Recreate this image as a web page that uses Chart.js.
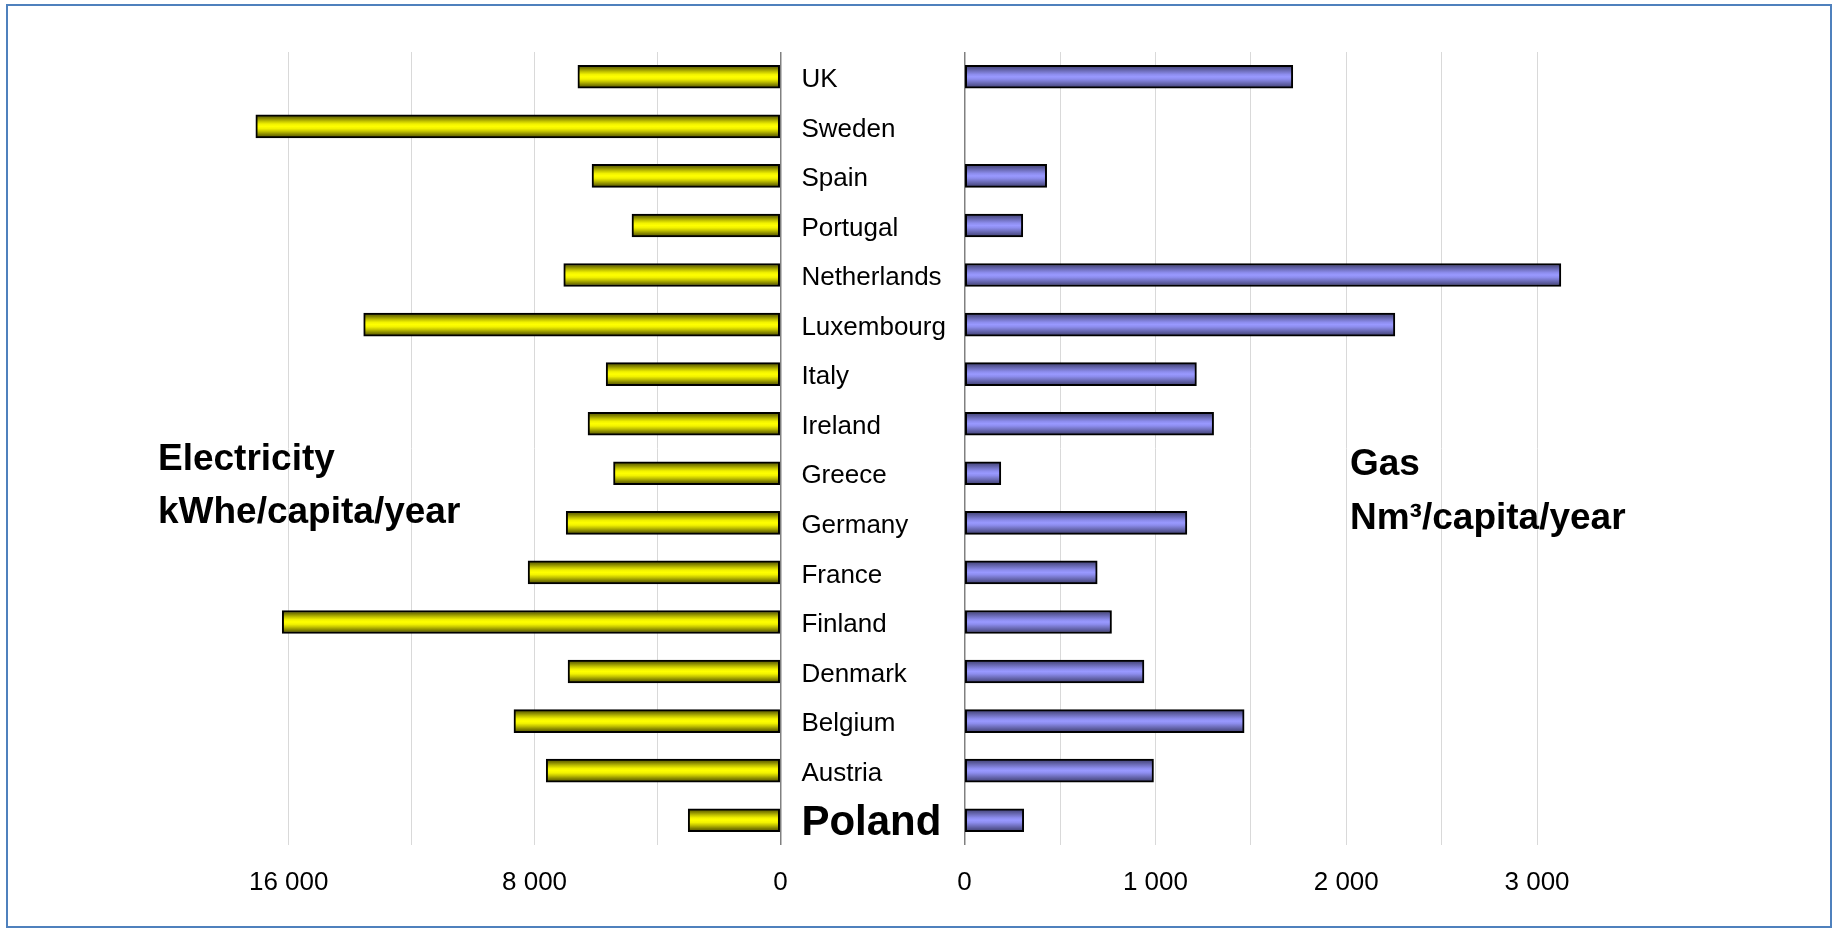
<!DOCTYPE html>
<html>
<head>
<meta charset="utf-8">
<script src="https://cdn.jsdelivr.net/npm/chart.js@4.4.0/dist/chart.umd.min.js"></script>
<style>
  body { margin: 0; background: #fff; font-family: "Liberation Sans", Arial, sans-serif; }
  #frame { position: absolute; left: 6px; top: 4px; width: 1822px; height: 920px; border: 2px solid #4f81bd; }
  canvas { position: absolute; top: 0; }
  #elecChart { left: 0; }
  #gasChart { left: 920px; }
  .title { position: absolute; font-weight: bold; font-size: 37px; line-height: 37px; color: #000; white-space: nowrap; }
</style>
</head>
<body>
<div id="frame"></div>
<canvas id="elecChart" width="960" height="931"></canvas>
<canvas id="gasChart" width="716" height="931"></canvas>
<div class="title" id="elecTitle1" style="left:158px; top:439px;"></div>
<div class="title" id="elecTitle2" style="left:158px; top:492px;"></div>
<div class="title" id="gasTitle1" style="left:1350px; top:444px;"></div>
<div class="title" id="gasTitle2" style="left:1350px; top:498px;"></div>
<script>
/* data, top to bottom */
const countries = ["UK", "Sweden", "Spain", "Portugal", "Netherlands", "Luxembourg", "Italy",
  "Ireland", "Greece", "Germany", "France", "Finland", "Denmark", "Belgium", "Austria", "Poland"];
const electricity = [6590, 17070, 6130, 4830, 7050, 13560, 5670, 6260, 5430, 6970, 8210, 16210, 6910, 8670, 7620, 3000];
const gas = [1720, null, 430, 305, 3125, 2255, 1215, 1305, 190, 1165, 695, 770, 940, 1465, 990, 310];
const elecGrid = [0, 4000, 8000, 12000, 16000];
const elecTicks = [0, 8000, 16000];
const gasGrid = [0, 500, 1000, 1500, 2000, 2500, 3000];
const gasTicks = [0, 1000, 2000, 3000];
const elecTitle = ["Electricity", "kWhe/capita/year"];
const gasTitle = ["Gas", "Nm\u00b3/capita/year"];

document.getElementById("elecTitle1").textContent = elecTitle[0];
document.getElementById("elecTitle2").textContent = elecTitle[1];
document.getElementById("gasTitle1").textContent = gasTitle[0];
document.getElementById("gasTitle2").textContent = gasTitle[1];

Chart.defaults.font.family = '"Liberation Sans", Arial, sans-serif';
Chart.defaults.color = "#000";

/* thousands with a space: 16 000 */
function spaced(v) {
  return String(v).replace(/\B(?=(\d{3})+(?!\d))/g, " ");
}

const yellowStops = [[0, "#4d4d00"], [0.14, "#808000"], [0.28, "#c2c200"], [0.4, "#f2f200"],
  [0.5, "#ffff00"], [0.6, "#f2f200"], [0.72, "#c2c200"], [0.86, "#808000"], [1, "#4d4d00"]];
const blueStops = [[0, "#3f3f6e"], [0.14, "#585898"], [0.28, "#7575c6"], [0.4, "#8d8dee"],
  [0.5, "#9999ff"], [0.6, "#8d8dee"], [0.72, "#7575c6"], [0.86, "#585898"], [1, "#3f3f6e"]];

/* gives every bar its own top-to-bottom gradient, like the old excel fill */
const barFill = {
  id: "barFill",
  beforeDatasetsDraw(chart, args, opts) {
    const meta = chart.getDatasetMeta(0);
    meta.data.forEach((el) => {
      if (!isFinite(el.y) || !isFinite(el.height)) return;
      const half = el.height / 2;
      const g = chart.ctx.createLinearGradient(0, el.y - half, 0, el.y + half);
      opts.stops.forEach((s) => g.addColorStop(s[0], s[1]));
      el.options = Object.assign({}, el.options, { backgroundColor: g });
    });
  },
};

function gridColor(c) {
  return c.tick && c.tick.value === 0 ? "#808080" : "#d9d9d9";
}
function gridWidth(c) {
  return c.tick && c.tick.value === 0 ? 1.5 : 1;
}

/* electricity, left side, axis reversed */
const elecChart = new Chart(document.getElementById("elecChart"), {
  type: "bar",
  data: {
    labels: countries,
    datasets: [{
      data: electricity,
      backgroundColor: "#ffff00",
      borderColor: "#000",
      borderWidth: 2,
      borderSkipped: false,
      barThickness: 23,
    }],
  },
  options: {
    indexAxis: "y",
    responsive: false,
    animation: false,
    layout: { padding: { left: 242.6, top: 52, right: 0, bottom: 0 } },
    plugins: {
      legend: { display: false },
      tooltip: { enabled: false },
      barFill: { stops: yellowStops },
    },
    scales: {
      x: {
        reverse: true,
        min: 0,
        max: 17500,
        border: { display: false },
        grid: { color: gridColor, lineWidth: gridWidth, drawTicks: false },
        ticks: {
          autoSkip: false,
          maxRotation: 0,
          padding: 22,
          font: { size: 26 },
          callback: (v) => (elecTicks.includes(v) ? spaced(v) : ""),
        },
        afterBuildTicks: (s) => { s.ticks = elecGrid.map((v) => ({ value: v })); },
        afterFit: (s) => { s.height = 86; },
      },
      y: {
        position: "right",
        border: { display: false },
        grid: { display: false, drawTicks: false },
        ticks: {
          autoSkip: false,
          padding: 21,
          labelOffset: 3,
          crossAlign: "near",
          font: (c) => (c.index === countries.length - 1 ? { size: 42, weight: "bold" } : { size: 26 }),
        },
        afterFit: (s) => { s.width = 179.6; },
      },
    },
  },
  plugins: [barFill],
});

/* gas, right side */
const gasChart = new Chart(document.getElementById("gasChart"), {
  type: "bar",
  data: {
    labels: countries,
    datasets: [{
      data: gas,
      backgroundColor: "#9999ff",
      borderColor: "#000",
      borderWidth: 2,
      borderSkipped: false,
      barThickness: 23,
    }],
  },
  options: {
    indexAxis: "y",
    responsive: false,
    animation: false,
    layout: { padding: { left: 44.6, top: 52, right: 60.8, bottom: 0 } },
    plugins: {
      legend: { display: false },
      tooltip: { enabled: false },
      barFill: { stops: blueStops },
    },
    scales: {
      x: {
        min: 0,
        max: 3200,
        border: { display: false },
        grid: { color: gridColor, lineWidth: gridWidth, drawTicks: false },
        ticks: {
          autoSkip: false,
          maxRotation: 0,
          padding: 22,
          font: { size: 26 },
          callback: (v) => (gasTicks.includes(v) ? spaced(v) : ""),
        },
        afterBuildTicks: (s) => { s.ticks = gasGrid.map((v) => ({ value: v })); },
        afterFit: (s) => { s.height = 86; },
      },
      y: {
        display: false,
      },
    },
  },
  plugins: [barFill],
});
</script>
</body>
</html>
